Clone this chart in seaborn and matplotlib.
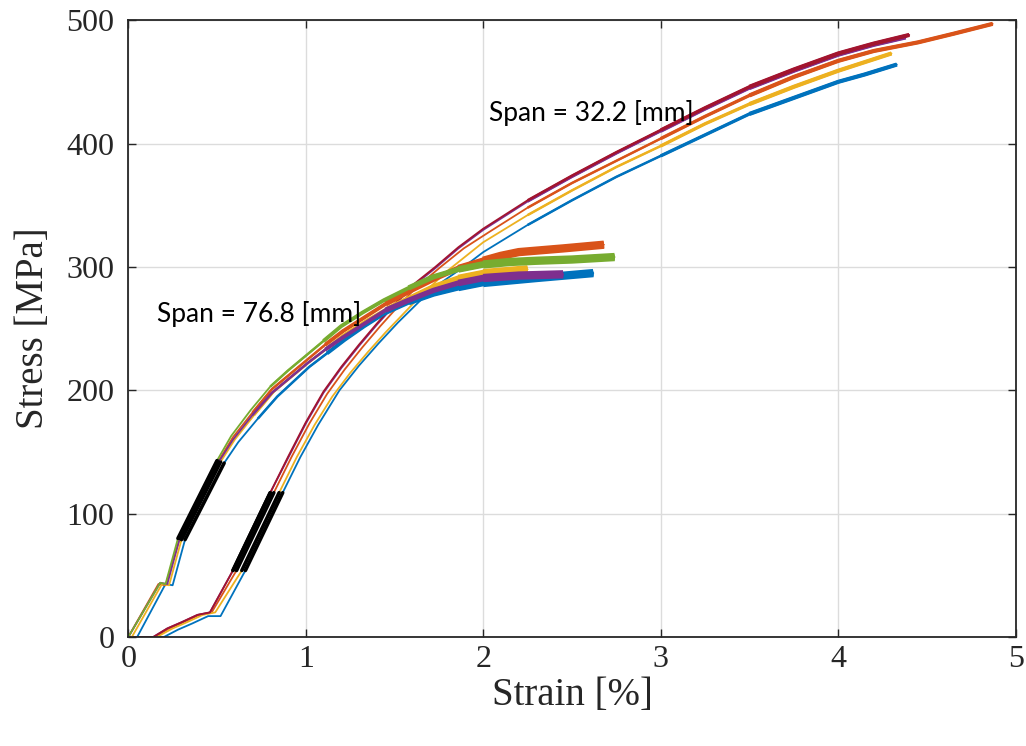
import matplotlib
matplotlib.use("Agg")
import matplotlib.pyplot as plt
import pandas as pd
import seaborn as sns

# MATLAB default line colours
blue = "#0072BD"
orange = "#D95319"
yellow = "#EDB120"
purple = "#7E2F8E"
green = "#77AC30"
darkred = "#A2142F"

# Span = 76.8 mm specimens (strain %, stress MPa)
long_blue_x = [0.05, 0.21, 0.25, 0.32, 0.54, 0.62, 0.73, 0.84, 0.93, 1.02, 1.12, 1.22, 1.33, 1.44, 1.58, 1.72, 1.86, 2.00, 2.30, 2.62]
long_blue_y = [0, 43, 42, 79, 141, 158, 177, 195, 207, 219, 230, 241, 252, 262, 271, 278, 283, 287, 291, 295]
long_orange_x = [0, 0.17, 0.21, 0.29, 0.51, 0.59, 0.70, 0.81, 0.91, 1.01, 1.11, 1.21, 1.33, 1.45, 1.58, 1.72, 1.86, 2.00, 2.10, 2.20, 2.45, 2.68]
long_orange_y = [0, 43, 42, 80, 143, 162, 182, 201, 213, 225, 237, 248, 259, 270, 280, 290, 299, 305, 309, 312, 315, 318]
long_yellow_x = [0.02, 0.19, 0.23, 0.30, 0.52, 0.60, 0.71, 0.82, 0.92, 1.02, 1.12, 1.22, 1.34, 1.46, 1.59, 1.72, 1.86, 2.00, 2.25]
long_yellow_y = [0, 43, 42, 79, 142, 160, 180, 199, 211, 223, 234, 245, 256, 266, 275, 284, 291, 295, 298]
long_purple_x = [0, 0.18, 0.22, 0.29, 0.51, 0.59, 0.70, 0.81, 0.91, 1.01, 1.11, 1.21, 1.33, 1.45, 1.58, 1.72, 1.86, 2.00, 2.20, 2.45]
long_purple_y = [0, 44, 43, 80, 142, 160, 180, 198, 210, 222, 233, 243, 254, 265, 273, 281, 287, 291, 293, 294]
long_green_x = [0, 0.18, 0.21, 0.28, 0.50, 0.58, 0.69, 0.80, 0.90, 1.00, 1.10, 1.20, 1.32, 1.44, 1.58, 1.72, 1.86, 2.00, 2.15, 2.30, 2.50, 2.74]
long_green_y = [0, 44, 43, 80, 143, 163, 184, 203, 216, 228, 240, 252, 263, 273, 283, 292, 298, 302, 304, 305, 306, 308]

# Span = 32.2 mm specimens
short_blue_x = [0.05, 0.20, 0.28, 0.36, 0.45, 0.52, 0.66, 0.87, 0.97, 1.07, 1.19, 1.30, 1.41, 1.52, 1.64, 1.76, 1.89, 2.00, 2.25, 2.50, 2.75, 3.00, 3.25, 3.50, 3.75, 4.00, 4.15, 4.33]
short_blue_y = [0, 0, 6, 11, 17, 17, 54, 117, 146, 172, 200, 220, 238, 255, 272, 287, 300, 312, 334, 354, 373, 390, 407, 424, 437, 450, 456, 464]
short_orange_x = [0, 0.15, 0.23, 0.31, 0.40, 0.47, 0.61, 0.82, 0.92, 1.02, 1.12, 1.22, 1.32, 1.42, 1.52, 1.62, 1.76, 1.89, 2.03, 2.25, 2.50, 2.75, 3.00, 3.25, 3.50, 3.75, 4.00, 4.20, 4.45, 4.65, 4.87]
short_orange_y = [0, 0, 7, 12, 18, 20, 54, 117, 146, 173, 197, 217, 235, 252, 268, 283, 300, 315, 328, 348, 368, 386, 404, 422, 439, 454, 467, 475, 482, 489, 497]
short_yellow_x = [0.02, 0.16, 0.25, 0.33, 0.42, 0.49, 0.64, 0.85, 0.95, 1.05, 1.15, 1.25, 1.35, 1.45, 1.55, 1.65, 1.80, 2.00, 2.25, 2.50, 2.75, 3.00, 3.25, 3.50, 3.75, 4.00, 4.15, 4.30]
short_yellow_y = [0, 0, 7, 12, 18, 20, 54, 117, 146, 172, 195, 214, 231, 247, 262, 277, 297, 320, 342, 362, 381, 398, 416, 432, 446, 459, 466, 473]
short_purple_x = [0, 0.14, 0.22, 0.30, 0.39, 0.46, 0.59, 0.80, 0.90, 1.00, 1.10, 1.20, 1.30, 1.40, 1.50, 1.60, 1.73, 1.86, 2.00, 2.25, 2.50, 2.75, 3.00, 3.25, 3.50, 3.75, 4.00, 4.20, 4.38]
short_purple_y = [0, 0, 7, 12, 18, 20, 54, 117, 145, 173, 198, 218, 236, 253, 269, 284, 299, 315, 330, 353, 373, 392, 410, 428, 445, 459, 472, 480, 486]
short_darkred_x = [0, 0.14, 0.22, 0.30, 0.39, 0.46, 0.59, 0.80, 0.90, 1.00, 1.10, 1.20, 1.30, 1.40, 1.50, 1.60, 1.73, 1.86, 2.00, 2.25, 2.50, 2.75, 3.00, 3.25, 3.50, 3.75, 4.00, 4.20, 4.40]
short_darkred_y = [0, 0, 7, 12, 18, 20, 54, 117, 146, 174, 199, 219, 237, 254, 270, 285, 300, 316, 331, 354, 374, 393, 411, 429, 446, 460, 473, 481, 488]

# noise bands of the raw signal: (starting strain, line width)
long_noise = [(0.7, 1.8), (1.1, 2.8), (1.45, 3.8), (1.75, 4.8), (2.0, 6.0)]
short_noise = [(2.2, 1.8), (2.8, 2.4), (3.4, 3.0)]

long_curves = [
    (long_blue_x, long_blue_y, blue),
    (long_orange_x, long_orange_y, orange),
    (long_yellow_x, long_yellow_y, yellow),
    (long_purple_x, long_purple_y, purple),
    (long_green_x, long_green_y, green),
]
short_curves = [
    (short_blue_x, short_blue_y, blue),
    (short_orange_x, short_orange_y, orange),
    (short_yellow_x, short_yellow_y, yellow),
    (short_purple_x, short_purple_y, purple),
    (short_darkred_x, short_darkred_y, darkred),
]

sns.set_style("ticks")
plt.rcParams["font.family"] = ["Liberation Serif", "DejaVu Serif"]

fig = plt.figure(figsize=(10.26, 7.46), dpi=100)
ax = fig.add_axes([0.125, 0.146, 0.865, 0.827])


def draw_curve(x, y, color, noise, fit_range):
    df = pd.DataFrame({"strain": x, "stress": y})
    sns.lineplot(data=df, x="strain", y="stress", color=color, lw=1.3,
                 sort=False, estimator=None, ax=ax)
    for start, width in noise:
        part = df[df["strain"] >= start]
        sns.lineplot(data=part, x="strain", y="stress", color=color, lw=width,
                     sort=False, estimator=None, ax=ax, solid_capstyle="butt")
    # linear region used for the modulus fit
    lin = df[(df["stress"] >= fit_range[0]) & (df["stress"] <= fit_range[1])]
    sns.lineplot(data=lin, x="strain", y="stress", color="black", lw=2.6,
                 sort=False, estimator=None, ax=ax)


for x, y, c in short_curves:
    draw_curve(x, y, c, short_noise, (54, 117))
for x, y, c in long_curves:
    draw_curve(x, y, c, long_noise, (79, 143))

ax.set_xlim(0, 5)
ax.set_ylim(0, 500)
ax.set_xticks([0, 1, 2, 3, 4, 5])
ax.set_yticks([0, 100, 200, 300, 400, 500])
ax.grid(True, color="#dcdcdc", lw=1)
ax.set_axisbelow(True)
for s in ax.spines.values():
    s.set_visible(True)
    s.set_color("#262626")
    s.set_linewidth(1.3)
ax.tick_params(direction="in", top=True, right=True, length=6, width=1,
               labelsize=23, colors="#262626")
ax.tick_params(axis="x", pad=6)
ax.tick_params(axis="y", pad=10)
ax.set_xlabel("Strain [%]", fontsize=28, color="#262626", labelpad=2)
ax.set_ylabel("Stress [MPa]", fontsize=28, color="#262626", labelpad=10)

ax.text(0.163, 262, "Span = 76.8 [mm]", fontsize=19, family=["Lato", "DejaVu Sans"],
        ha="left", va="center", color="black")
ax.text(2.03, 425, "Span = 32.2 [mm]", fontsize=19, family=["Lato", "DejaVu Sans"],
        ha="left", va="center", color="black")

fig.savefig("out.png", dpi=100)
